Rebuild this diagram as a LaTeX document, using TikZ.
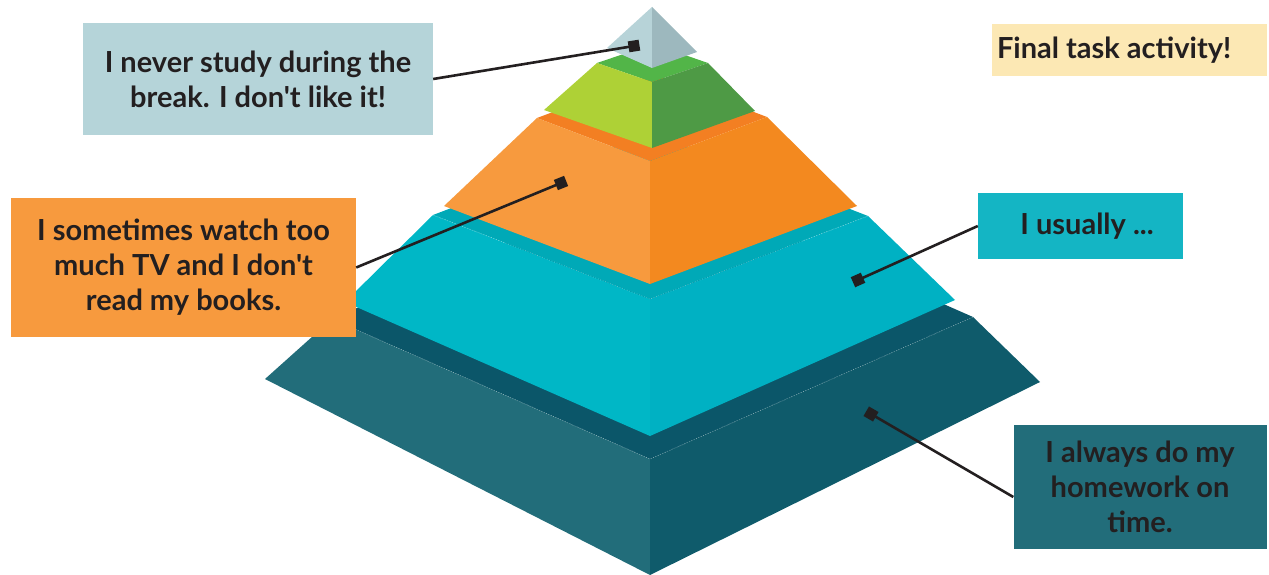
\documentclass[tikz,border=0pt]{standalone}
\usepackage{fontspec}
\newfontfamily\lato{Lato}
\usetikzlibrary{calc}
\definecolor{txt}{HTML}{231F20}
\definecolor{baseL}{HTML}{226D7A}
\definecolor{baseR}{HTML}{0F5B6B}
\definecolor{baseT}{HTML}{0B5669}
\definecolor{cyanL}{HTML}{00B7C6}
\definecolor{cyanR}{HTML}{00B1C3}
\definecolor{cyanT}{HTML}{00A9B7}
\definecolor{orL}{HTML}{F79A3E}
\definecolor{orR}{HTML}{F3891F}
\definecolor{orT}{HTML}{F37F22}
\definecolor{grL}{HTML}{AED136}
\definecolor{grR}{HTML}{4E9A45}
\definecolor{grT}{HTML}{52B548}
\definecolor{apL}{HTML}{B7D3D8}
\definecolor{apR}{HTML}{9DB8BE}
\definecolor{boxA}{HTML}{B5D4D9}
\definecolor{boxB}{HTML}{F79A3E}
\definecolor{boxC}{HTML}{FCE8B4}
\definecolor{boxD}{HTML}{14B5C4}
\definecolor{boxE}{HTML}{226D7A}
\begin{document}
\begin{tikzpicture}[x=1pt,y=-1pt,
  face/.style={line width=0.3pt},
  edgedots/.style={white, opacity=0.45, line width=0.6pt, dotted},
  label/.style={inner sep=0pt, align=center, text=txt,
    font=\lato\fontsize{29}{35}\selectfont\bfseries},
  marker/.style={fill=txt, draw=none, inner sep=0pt, minimum size=11pt},
  conn/.style={draw=txt, line width=2.6pt}]
\useasboundingbox (0,0) rectangle (1269,575);
% ---- base layer
\fill[baseT, face] (650,459) -- (973,317) -- (655,177) -- (332,319) -- cycle;
\fill[baseL] (265,379) -- (650,575) -- (650,459) -- (332,319) -- cycle;
\fill[baseR] (650,575) -- (1040,382) -- (973,317) -- (650,459) -- cycle;
\draw[edgedots] (332,319) -- (650,459) -- (973,317);
% ---- cyan layer
\fill[cyanT] (650,299) -- (868,216) -- (651,132) -- (433,215) -- cycle;
\fill[cyanL] (345,302) -- (650,436) -- (650,299) -- (433,215) -- cycle;
\fill[cyanR] (650,436) -- (955,300) -- (868,216) -- (650,299) -- cycle;
\draw[edgedots] (433,215) -- (650,299) -- (868,216);
% ---- orange layer
\fill[orT] (650,161) -- (767,117) -- (654,74) -- (537,118) -- cycle;
\fill[orL] (444,206) -- (650,284) -- (650,161) -- (537,118) -- cycle;
\fill[orR] (650,284) -- (857,206) -- (767,117) -- (650,161) -- cycle;
% ---- green layer
\fill[grT] (652,82) -- (708,63) -- (653,44) -- (597,63) -- cycle;
\fill[grL] (544,110) -- (652,148) -- (652,82) -- (597,63) -- cycle;
\fill[grR] (652,148) -- (755,111) -- (708,63) -- (652,82) -- cycle;
% ---- apex
\fill[apL] (607,48) -- (652,68) -- (652,7) -- cycle;
\fill[apR] (652,68) -- (697,52) -- (652,7) -- cycle;

% ---- text boxes
\node[label, fill=boxA, minimum width=350pt, minimum height=112pt] (b1) at (258,79)
  {I never study during the\\break. I don't like it!};
\node[label, fill=boxB, minimum width=345pt, minimum height=139pt] (b2) at (183.5,267.5)
  {I sometimes watch too\\much TV and I don't\\read my books.};
\node[label, fill=boxC, minimum width=275pt, minimum height=52pt] (b3) at (1129.5,50)
  {\makebox[265pt][l]{Final task activity!}};
\node[label, fill=boxD, minimum width=205pt, minimum height=66pt] (b4) at (1080.5,226)
  {\hspace*{13pt}I usually ...};
\node[label, fill=boxE, minimum width=253pt, minimum height=124pt] (b5) at (1140,487)
  {I always do my\\homework on\\time.};

% ---- markers
\node[marker, rotate=9] (m1) at (634,46) {};
\node[marker, rotate=22] (m2) at (561,183) {};
\node[marker, rotate=24] (m4) at (858,280) {};
\node[marker, rotate=-30] (m5) at (871,414) {};
\coordinate (c5) at ($(b5.west)+(0,10)$);

% ---- connectors
\draw[conn] (b1.east) -- (m1.center);
\draw[conn] (b2.east) -- (m2.center);
\draw[conn] (b4.west) -- (m4.center);
\draw[conn] (c5) -- (m5.center);
\end{tikzpicture}
\end{document}
